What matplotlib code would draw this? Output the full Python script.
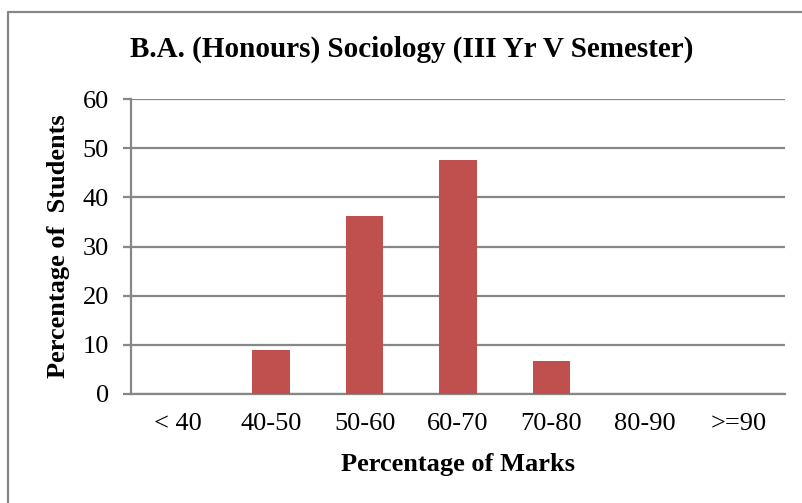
"""Distribution of marks, B.A. (Honours) Sociology, III Yr V Semester."""

import matplotlib
matplotlib.use("Agg")
import matplotlib.pyplot as plt
from matplotlib.lines import Line2D
import numpy as np

categories = ["< 40", "40-50", "50-60", "60-70", "70-80", "80-90", ">=90"]
percent_students = [0, 8.9, 36.2, 47.6, 6.8, 0, 0]
y_ticks = [0, 10, 20, 30, 40, 50, 60]

BAR = "#c0504d"
GRID = "#878787"

plt.rcParams["font.family"] = ["Liberation Serif", "DejaVu Serif"]

W, H = 803, 503
fig = plt.figure(figsize=(W / 100, H / 100), dpi=100)
ax = fig.add_axes([131 / W, 1 - 394 / H, (785 - 131) / W, (394 - 99) / H])

x = np.arange(len(categories))
ax.bar(x, percent_students, width=0.4, color=BAR, zorder=3)

ax.set_xlim(-0.5, len(categories) - 0.5)
ax.set_ylim(0, 60)
ax.set_yticks(y_ticks)
ax.set_xticks(x)
ax.set_xticklabels(categories, fontsize=19)
ax.tick_params(axis="y", labelsize=19, length=6, width=1.6, color=GRID, pad=10)
ax.tick_params(axis="x", length=0, pad=14)
ax.yaxis.grid(True, color=GRID, linewidth=1.6, zorder=0)

for side in ("top", "right"):
    ax.spines[side].set_visible(False)
for side in ("left", "bottom"):
    ax.spines[side].set_color(GRID)
    ax.spines[side].set_linewidth(1.6)

ax.set_xlabel("Percentage of Marks", fontsize=19, fontweight="bold", va="center")
ax.xaxis.set_label_coords(0.5, (394 - 465) / 295)
ax.set_ylabel("Percentage of  Students", fontsize=19, fontweight="bold",
              va="center", ha="center")
ax.yaxis.set_label_coords((59 - 131) / 654, 0.5)

fig.text(412 / W, 1 - 49 / H, "B.A. (Honours) Sociology (III Yr V Semester)",
         ha="center", va="center", fontsize=21, fontweight="bold")

# outer frame: only the top and left edges fall inside the picture
fig.lines.append(Line2D([8 / W, 8 / W, 1], [0, 1 - 11.5 / H, 1 - 11.5 / H],
                        transform=fig.transFigure, color=GRID, linewidth=1.6))

fig.savefig("out.png", dpi=100)
